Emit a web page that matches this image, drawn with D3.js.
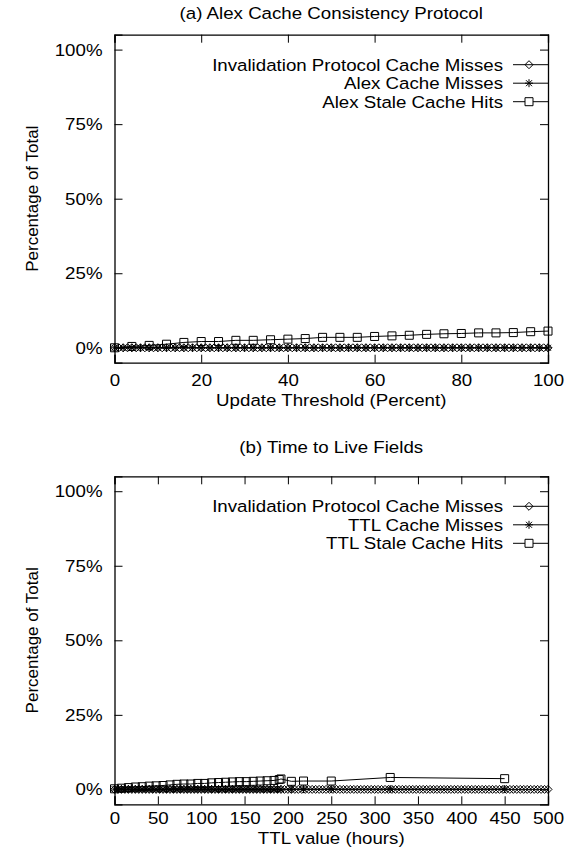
<!DOCTYPE html>
<html>
<head>
<meta charset="utf-8">
<script src="https://cdn.jsdelivr.net/npm/d3@7"></script>
<style>
  body { margin: 0; background: #fff; }
  svg { display: block; }
  text { font-family: "Liberation Sans", Arial, Helvetica, sans-serif; font-size: 17px; fill: #000; }
</style>
</head>
<body>
<svg id="chart" width="572" height="854"></svg>
<script>
// ---- data ----
var yTicks = [0, 25, 50, 75, 100];

// (a) Alex cache consistency protocol, x = update threshold (%)
var aTicks = [0, 20, 40, 60, 80, 100];
var aInvalX = [0,1,2,3,4,5,6,7,8,9,10,11,12,13,14,15,16,17,18,19,20,21,22,23,24,25,26,27,28,29,30,
  31,32,33,34,35,36,37,38,39,40,41,42,43,44,45,46,47,48,49,50,51,52,53,54,55,56,57,58,59,60,
  61,62,63,64,65,66,67,68,69,70,71,72,73,74,75,76,77,78,79,80,81,82,83,84,85,86,87,88,89,90,
  91,92,93,94,95,96,97,98,99,100];
var aInvalY = [0,0,0,0,0,0,0,0,0,0,0,0,0,0,0,0,0,0,0,0,0,0,0,0,0,0,0,0,0,0,0,
  0,0,0,0,0,0,0,0,0,0,0,0,0,0,0,0,0,0,0,0,0,0,0,0,0,0,0,0,0,0,
  0,0,0,0,0,0,0,0,0,0,0,0,0,0,0,0,0,0,0,0,0,0,0,0,0,0,0,0,0,0,
  0,0,0,0,0,0,0,0,0,0];
var aMissX = [0,2,4,6,8,10,12,14,16,18,20,22,24,26,28,30,32,34,36,38,40,42,44,46,48,50,
  52,54,56,58,60,62,64,66,68,70,72,74,76,78,80,82,84,86,88,90,92,94,96,98,100];
var aMissY = [0,0,0,0,0,0,0,0,0,0,0,0,0,0,0,0,0,0,0,0,0,0,0,0,0,0,
  0,0,0,0,0,0,0,0,0,0,0,0,0,0,0,0,0,0,0,0,0,0,0,0,0];
var aStaleX = [0,4,8,12,16,20,24,28,32,36,40,44,48,52,56,60,64,68,72,76,80,84,88,92,96,100];
var aStaleY = [0,0.45,0.8,1.2,1.8,2.1,2.1,2.5,2.5,2.7,2.9,3.1,3.5,3.5,3.5,3.8,4.0,4.2,4.5,4.7,
  4.8,5.0,5.0,5.1,5.4,5.6];

// (b) time to live fields, x = TTL value (hours)
var bTicks = [0, 50, 100, 150, 200, 250, 300, 350, 400, 450, 500];
var bInvalX = [0,4,8,12,16,20,24,28,32,36,40,44,48,52,56,60,64,68,72,76,80,84,88,92,96,100,
  104,108,112,116,120,124,128,132,136,140,144,148,152,156,160,164,168,172,176,180,184,188,192,196,200,
  204,208,212,216,220,224,228,232,236,240,244,248,252,256,260,264,268,272,276,280,284,288,292,296,300,
  304,308,312,316,320,324,328,332,336,340,344,348,352,356,360,364,368,372,376,380,384,388,392,396,400,
  404,408,412,416,420,424,428,432,436,440,444,448,452,456,460,464,468,472,476,480,484,488,492,496,500];
var bInvalY = [0,0,0,0,0,0,0,0,0,0,0,0,0,0,0,0,0,0,0,0,0,0,0,0,0,0,
  0,0,0,0,0,0,0,0,0,0,0,0,0,0,0,0,0,0,0,0,0,0,0,0,0,
  0,0,0,0,0,0,0,0,0,0,0,0,0,0,0,0,0,0,0,0,0,0,0,0,0,
  0,0,0,0,0,0,0,0,0,0,0,0,0,0,0,0,0,0,0,0,0,0,0,0,0,
  0,0,0,0,0,0,0,0,0,0,0,0,0,0,0,0,0,0,0,0,0,0,0,0,0];
var bMissX = [0,4,8,12,16,20,24,28,32,36,40,44,48,52,56,60,64,68,72,76,80,84,88,92,96,100,
  104,108,112,116,120,124,128,132,136,140,144,148,152,156,160,164,168,172,176,180,184,188,192,
  204,218,250,318,450];
var bMissY = [0.1,0.1,0.1,0.1,0.1,0.1,0.1,0.1,0.1,0.1,0.1,0.1,0.1,0.1,0.1,0.1,0.1,0.1,0.1,0.1,0.1,0.1,0.1,0.1,0.1,0.1,
  0.1,0.1,0.1,0.1,0.1,0.1,0.1,0.1,0.1,0.1,0.1,0.1,0.1,0.1,0.1,0.1,0.1,0.1,0.1,0.1,0.1,0.1,0.1,
  0.1,0.1,0.1,0.1,0.1];
var bStaleX = [0,8,16,24,32,40,48,56,64,72,80,88,96,104,112,120,128,136,144,152,160,168,176,184,190,192,
  204,218,250,318,450];
var bStaleY = [0.2,0.4,0.6,0.8,0.9,1.1,1.2,1.3,1.5,1.7,1.8,1.8,2.0,2.0,2.2,2.3,2.4,2.5,2.6,2.6,
  2.7,2.8,2.9,3.0,3.3,3.5,2.7,2.8,2.8,4.0,3.6];

// ---- drawing ----
var svg = d3.select('#chart');
var left = 114.5, right = 548;
var stretch = 1.1; // the original's lettering is a little wider than Liberation Sans

// marker shapes, drawn as paths centred on 0,0
var markers = {
  diamond: 'M0,-4L4,0L0,4L-4,0Z',
  star: 'M-4,0H4M0,-4V4M-3,-3L3,3M-3,3L3,-3',
  square: 'M-4,-4H4V4H-4Z'
};

// widen text horizontally around its own anchor x
function widen(sel) {
  sel.each(function() {
    var t = d3.select(this);
    var x = +t.attr('x') || 0;
    t.attr('transform', 'translate(' + x * (1 - stretch) + ',0) scale(' + stretch + ',1)');
  });
}

function drawPanel(opts) {
  var x = d3.scaleLinear().domain([0, opts.xMax]).range([left, right]);
  var y = d3.scaleLinear().domain([-5, 105]).range([opts.top + 328, opts.top]);
  var g = svg.append('g');

  // title
  g.append('text')
    .attr('x', (left + right) / 2)
    .attr('y', opts.top - opts.titleGap)
    .attr('text-anchor', 'middle')
    .text(opts.title)
    .call(widen);

  // series: line + markers
  opts.series.forEach(function(s) {
    var pts = s.xs.map(function(d, i) { return [d, s.ys[i]]; });
    g.append('path')
      .attr('d', d3.line().x(function(d) { return x(d[0]); }).y(function(d) { return y(d[1]); })(pts))
      .attr('fill', 'none')
      .attr('stroke', '#000')
      .attr('stroke-width', 1);
    g.selectAll(null).data(pts).enter().append('path')
      .attr('transform', function(d) { return 'translate(' + x(d[0]) + ',' + y(d[1]) + ')'; })
      .attr('d', markers[s.marker])
      .attr('fill', 'none')
      .attr('stroke', '#000')
      .attr('stroke-width', 1);
  });

  // axes, ticks pointing inward on all four sides (gnuplot mirror style)
  var tk = 8;
  g.append('g').attr('transform', 'translate(0,' + y.range()[0] + ')')
    .call(d3.axisBottom(x).tickValues(opts.xTicks).tickSize(-tk).tickPadding(opts.xPad).tickFormat(d3.format('d')));
  g.append('g').attr('transform', 'translate(0,' + y.range()[1] + ')')
    .call(d3.axisTop(x).tickValues(opts.xTicks).tickSize(-tk).tickFormat(''));
  g.append('g').attr('transform', 'translate(' + left + ',0)')
    .call(d3.axisLeft(y).tickValues(yTicks).tickSize(-tk).tickPadding(12).tickFormat(function(d) { return d + '%'; }));
  g.append('g').attr('transform', 'translate(' + right + ',0)')
    .call(d3.axisRight(y).tickValues(yTicks).tickSize(-tk).tickFormat(''));
  g.selectAll('.domain').attr('stroke', '#000').attr('stroke-width', 1.3);
  g.selectAll('.tick line').attr('stroke', '#000');
  g.selectAll('.tick text')
    .style('font-size', '17px')
    .style('font-family', '"Liberation Sans", Arial, sans-serif')
    .call(widen);

  // axis labels
  g.append('text')
    .attr('x', (left + right) / 2)
    .attr('y', y.range()[0] + opts.xLabelGap)
    .attr('text-anchor', 'middle')
    .text(opts.xLabel)
    .call(widen);
  g.append('text')
    .attr('transform', 'translate(38,' + (opts.top + 164) + ') rotate(-90)')
    .attr('text-anchor', 'middle')
    .text('Percentage of Total');

  // legend, top right
  opts.series.forEach(function(s, i) {
    var ly = opts.top + 30 + i * 18.5;
    g.append('text')
      .attr('x', 503)
      .attr('y', ly)
      .attr('dy', '0.35em')
      .attr('text-anchor', 'end')
      .text(s.name)
      .call(widen);
    g.append('line')
      .attr('x1', 513).attr('x2', right)
      .attr('y1', ly).attr('y2', ly)
      .attr('stroke', '#000');
    g.append('path')
      .attr('transform', 'translate(529,' + ly + ')')
      .attr('d', markers[s.marker])
      .attr('fill', s.marker === 'square' ? '#fff' : 'none')
      .attr('stroke', '#000');
  });
}

drawPanel({
  top: 34.7,
  xMax: 100,
  xTicks: aTicks,
  xPad: 11,
  xLabelGap: 43,
  titleGap: 16,
  title: '(a) Alex Cache Consistency Protocol',
  xLabel: 'Update Threshold (Percent)',
  series: [
    { name: 'Invalidation Protocol Cache Misses', marker: 'diamond', xs: aInvalX, ys: aInvalY },
    { name: 'Alex Cache Misses', marker: 'star', xs: aMissX, ys: aMissY },
    { name: 'Alex Stale Cache Hits', marker: 'square', xs: aStaleX, ys: aStaleY }
  ]
});

drawPanel({
  top: 476.3,
  xMax: 500,
  xTicks: bTicks,
  xPad: 8,
  xLabelGap: 40,
  titleGap: 23,
  title: '(b) Time to Live Fields',
  xLabel: 'TTL value (hours)',
  series: [
    { name: 'Invalidation Protocol Cache Misses', marker: 'diamond', xs: bInvalX, ys: bInvalY },
    { name: 'TTL Cache Misses', marker: 'star', xs: bMissX, ys: bMissY },
    { name: 'TTL Stale Cache Hits', marker: 'square', xs: bStaleX, ys: bStaleY }
  ]
});
</script>
</body>
</html>
